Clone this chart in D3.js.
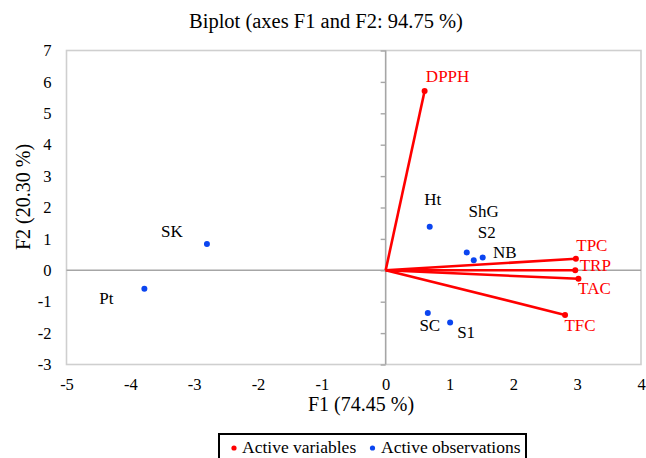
<!DOCTYPE html>
<html><head><meta charset="utf-8">
<script src="https://cdn.jsdelivr.net/npm/d3@7"></script>
<style>body{margin:0;background:#fff;}svg{display:block;font-family:"Liberation Serif","Times New Roman",serif;}</style>
</head><body><svg id="c" width="646" height="458"></svg>
<script>
// Data
const varNames = ["DPPH","TPC","TRP","TAC","TFC"];
const varF1 = [0.61, 2.98, 2.97, 3.02, 2.81];
const varF2 = [5.71, 0.37, 0.00, -0.27, -1.42];
const obsNames = ["Ht","ShG","S2","NB","SC","S1","SK","Pt"];
const obsF1 = [0.69, 1.27, 1.38, 1.52, 0.66, 1.01, -2.80, -3.78];
const obsF2 = [1.39, 0.57, 0.32, 0.41, -1.36, -1.66, 0.84, -0.59];
const xTicks = [-5,-4,-3,-2,-1,0,1,2,3,4];
const yTicks = [-3,-2,-1,0,1,2,3,4,5,6,7];
// label offsets (px, style)
const varLabelOff = [[23,-15],[16,-14],[20,-5],[16,9],[15,10]];
const obsLabelOff = [[3,-28],[17,-41],[13,-28],[22,-5],[2,12],[16,10],[-35,-13],[-38,9]];

const FONT = "Liberation Serif, Times New Roman, serif";
const svg = d3.select("#c");
const x = d3.scaleLinear().domain([-5,4]).range([66.5,641]);
const y = d3.scaleLinear().domain([-3,7]).range([364.5,50.5]);
const fmt = d => String(d);

// frame
svg.append("rect").attr("x",x(-5)).attr("y",y(7)).attr("width",x(4)-x(-5)).attr("height",y(-3)-y(7))
  .attr("fill","none").attr("stroke","#cfcfcf").attr("stroke-width",1.6);
// zero axes
svg.append("line").attr("x1",x(-5)).attr("x2",x(4)).attr("y1",y(0)).attr("y2",y(0)).attr("stroke","#a6a6a6").attr("stroke-width",1.6);
svg.append("line").attr("x1",x(0)).attr("x2",x(0)).attr("y1",y(-3)).attr("y2",y(7)).attr("stroke","#a6a6a6").attr("stroke-width",1.6);
// y ticks on zero axis
const yAx = svg.append("g").attr("transform",`translate(${x(0)},0)`)
  .call(d3.axisLeft(y).tickValues(yTicks).tickSize(5).tickFormat(""));
yAx.select(".domain").remove();
yAx.selectAll("line").attr("stroke","#a6a6a6").attr("stroke-width",1.4);

// tick labels
const ytl = svg.append("g").attr("transform",`translate(${x(-5)},0)`)
  .call(d3.axisLeft(y).tickValues(yTicks).tickSize(0).tickPadding(15).tickFormat(fmt))
  .attr("font-family",FONT).attr("font-size",16.5);
ytl.select(".domain").remove();
ytl.selectAll("text").attr("fill","#000");
const xtl = svg.append("g").attr("transform",`translate(0,${y(-3)})`)
  .call(d3.axisBottom(x).tickValues(xTicks).tickSize(0).tickPadding(14).tickFormat(fmt))
  .attr("font-family",FONT).attr("font-size",16.5);
xtl.select(".domain").remove();
xtl.selectAll("text").attr("fill","#000");

// titles
svg.append("text").attr("x",326).attr("y",28).attr("text-anchor","middle").attr("font-size",20.5).text("Biplot (axes F1 and F2: 94.75 %)");
svg.append("text").attr("x",361).attr("y",411).attr("text-anchor","middle").attr("font-size",20).text("F1 (74.45 %)");
svg.append("text").attr("transform","translate(30,197) rotate(-90)").attr("text-anchor","middle").attr("font-size",20).text("F2 (20.30 %)");

// variable vectors
const vars = varNames.map((n,i)=>({n,f1:varF1[i],f2:varF2[i],o:varLabelOff[i]}));
svg.append("g").selectAll("line").data(vars).join("line")
  .attr("x1",x(0)).attr("y1",y(0)).attr("x2",d=>x(d.f1)).attr("y2",d=>y(d.f2))
  .attr("stroke","#ff0000").attr("stroke-width",2.6);
svg.append("g").selectAll("circle").data(vars).join("circle")
  .attr("cx",d=>x(d.f1)).attr("cy",d=>y(d.f2)).attr("r",3).attr("fill","#ff0000");
svg.append("g").selectAll("text").data(vars).join("text")
  .attr("x",d=>x(d.f1)+d.o[0]).attr("y",d=>y(d.f2)+d.o[1]).attr("dy","0.35em")
  .attr("text-anchor","middle").attr("font-size",17).attr("fill","#ff0000").text(d=>d.n);

// observations
const obs = obsNames.map((n,i)=>({n,f1:obsF1[i],f2:obsF2[i],o:obsLabelOff[i]}));
svg.append("g").selectAll("circle").data(obs).join("circle")
  .attr("cx",d=>x(d.f1)).attr("cy",d=>y(d.f2)).attr("r",3).attr("fill","#0b45f0");
svg.append("g").selectAll("text").data(obs).join("text")
  .attr("x",d=>x(d.f1)+d.o[0]).attr("y",d=>y(d.f2)+d.o[1]).attr("dy","0.35em")
  .attr("text-anchor","middle").attr("font-size",17).attr("fill","#000").text(d=>d.n);

// legend
const lg = svg.append("g");
lg.append("rect").attr("x",219).attr("y",434).attr("width",307).attr("height",40)
  .attr("fill","#fff").attr("stroke","#000").attr("stroke-width",2);
lg.append("circle").attr("cx",234).attr("cy",448).attr("r",2.6).attr("fill","#ff0000");
lg.append("text").attr("x",242).attr("y",453).attr("font-size",17.5).text("Active variables");
lg.append("circle").attr("cx",372.5).attr("cy",448).attr("r",2.6).attr("fill","#0b45f0");
lg.append("text").attr("x",381).attr("y",453).attr("font-size",17.5).text("Active observations");
</script></body></html>
